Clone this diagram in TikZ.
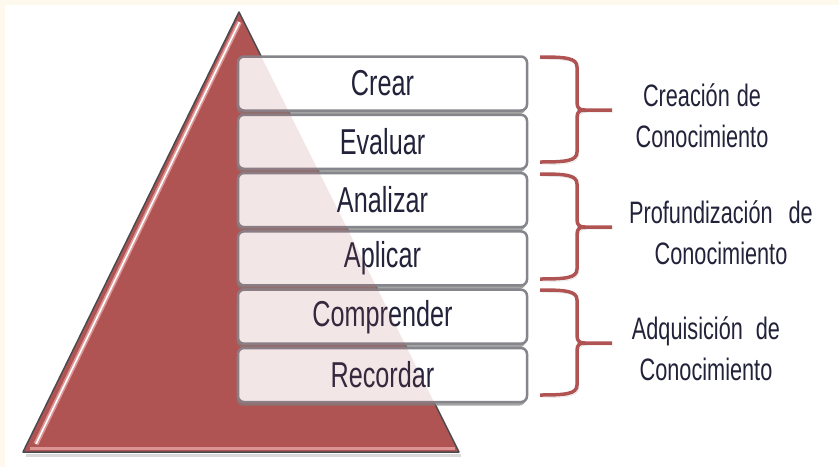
\documentclass[tikz,border=0pt]{standalone}
\usepackage{fontspec}
\setmainfont[FakeStretch=0.7]{Liberation Sans}
\usetikzlibrary{shadows}
\definecolor{Fondo}{HTML}{FDF9EC}
\definecolor{Granate}{HTML}{B05353}
\definecolor{GranateClaro}{HTML}{DC9494}
\definecolor{Borde}{HTML}{85858C}
\definecolor{Contorno}{HTML}{4A4A4E}
\definecolor{Tinta}{HTML}{22223A}

\tikzset{
  nivel/.style={draw=Borde, line width=2.5pt, rounded corners=6pt, fill=white,
    minimum width=289pt, minimum height=54pt, inner sep=0pt, text=Tinta,
    font=\fontsize{36}{40}\selectfont,
    drop shadow={opacity=0.7, shadow xshift=-1.5pt, shadow yshift=-3.5pt}},
  etapa/.style={align=center, text=Tinta, font=\fontsize{31}{41}\selectfont},
  llave/.pic={
    \draw[Granate, line width=3.5pt, line join=round,
      preaction={draw=black!15, transform canvas={xshift=1.5pt,yshift=-2.5pt}}]
      (0,0) .. controls (26,0) and (37,1) .. (37,10) -- (37,45)
      .. controls (37,51) and (39,53) .. (45,53) -- (72,53)
      (45,53) .. controls (39,53) and (37,55) .. (37,61) -- (37,95)
      .. controls (37,104) and (26,105) .. (0,105);
  }
}

\begin{document}
\begin{tikzpicture}[x=1pt,y=-1pt]
  \useasboundingbox (0,0) rectangle (839,467);
  \fill[Fondo] (0,0) rectangle (839,467);
  \fill[white] (5,5) rectangle (839,467);

  % Triangle
  \coordinate (cima) at (239,12);
  \coordinate (baseizq) at (23,452);
  \coordinate (baseder) at (459,452);
  \draw[black!15, line width=3pt] (26,455.5) -- (461,455.5);
  \filldraw[fill=Granate, draw=Contorno, line width=1.5pt, line join=round]
    (cima) -- (baseizq) -- (baseder) -- cycle;
  \draw[GranateClaro, line width=3pt] (30,448) -- (455,448);
  \draw[GranateClaro, line width=5pt] (239.5,22) -- (36,444);
  \draw[white, line width=1.6pt] (239.5,22) -- (36,444);

  % Levels
  \node[nivel] (crear) at (382.5,83.5) {Crear};
  \node[nivel] (evaluar) at (382.5,141.8) {Evaluar};
  \node[nivel] (analizar) at (382.5,200.1) {Analizar};
  \node[nivel] (aplicar) at (382.5,258.4) {Aplicar};
  \node[nivel] (comprender) at (382.5,316.7) {Comprender};
  \node[nivel] (recordar) at (382.5,375) {Recordar};

  % Triangle seen through the boxes
  \begin{scope}
    \clip (crear.north west) rectangle (recordar.south east);
    \fill[Granate, opacity=0.14] (cima) -- (baseizq) -- (baseder) -- cycle;
  \end{scope}

  % Braces
  \pic (llaveA) at (540,57) {llave};
  \pic (llaveB) at (540,174) {llave};
  \pic (llaveC) at (540,290) {llave};

  % Stages
  \node[etapa] (creacion) at (702,116) {Creación\hspace{7pt}de\\Conocimiento};
  \node[etapa] (profundizacion) at (721,233) {Profundización\hspace{16pt}de\\Conocimiento};
  \node[etapa] (adquisicion) at (706,349) {Adquisición\hspace{13pt}de\\Conocimiento};
\end{tikzpicture}
\end{document}
